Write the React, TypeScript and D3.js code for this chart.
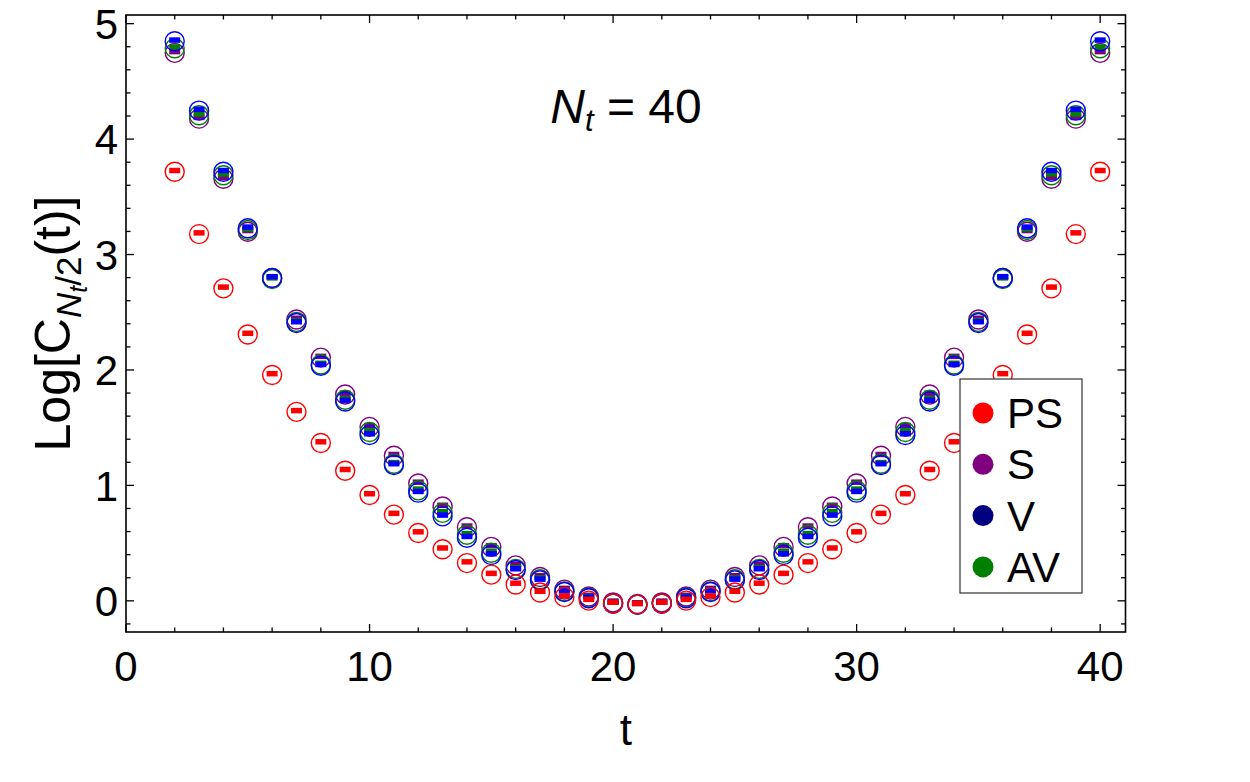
import React from "react";
import * as d3 from "d3";

// time slices
const tValues = [
  2, 3, 4, 5, 6, 7, 8, 9, 10, 11, 12, 13, 14, 15, 16, 17, 18, 19, 20, 21,
  22, 23, 24, 25, 26, 27, 28, 29, 30, 31, 32, 33, 34, 35, 36, 37, 38, 39, 40,
];

// log of the correlator for each channel
const psValues = [
  3.73, 3.19, 2.72, 2.32, 1.97, 1.65, 1.38, 1.14, 0.93, 0.76, 0.6, 0.46, 0.34, 0.24, 0.155, 0.085, 0.045, 0.015, -0.01, -0.02,
  -0.01, 0.015, 0.045, 0.085, 0.155, 0.24, 0.34, 0.46, 0.6, 0.76, 0.93, 1.14, 1.38, 1.65, 1.97, 2.32, 2.72, 3.19, 3.73,
];
const sValues = [
  4.76, 4.19, 3.67, 3.21, 2.81, 2.45, 2.12, 1.8, 1.52, 1.27, 1.03, 0.83, 0.65, 0.48, 0.32, 0.22, 0.11, 0.05, 0.0, -0.015,
  0.0, 0.05, 0.11, 0.22, 0.32, 0.48, 0.65, 0.83, 1.03, 1.27, 1.52, 1.8, 2.12, 2.45, 2.81, 3.21, 3.67, 4.19, 4.76,
];
const vValues = [
  4.86, 4.26, 3.73, 3.24, 2.81, 2.42, 2.05, 1.74, 1.45, 1.19, 0.95, 0.745, 0.56, 0.41, 0.28, 0.19, 0.09, 0.035, -0.01, -0.02,
  -0.01, 0.035, 0.09, 0.19, 0.28, 0.41, 0.56, 0.745, 0.95, 1.19, 1.45, 1.74, 2.05, 2.42, 2.81, 3.24, 3.73, 4.26, 4.86,
];
const avValues = [
  4.8, 4.22, 3.7, 3.225, 2.8, 2.43, 2.06, 1.755, 1.475, 1.2, 0.97, 0.775, 0.585, 0.43, 0.29, 0.2, 0.095, 0.04, -0.01, -0.02,
  -0.01, 0.04, 0.095, 0.2, 0.29, 0.43, 0.585, 0.775, 0.97, 1.2, 1.475, 1.755, 2.06, 2.43, 2.8, 3.225, 3.7, 4.22, 4.8,
];

const legendNames = ["PS", "S", "V", "AV"];
const legendColors = ["#ff0000", "#800080", "#000080", "#008000"];

const xMajor = [0, 10, 20, 30, 40];
const yMajor = [0, 1, 2, 3, 4, 5];

const W = 1250;
const H = 782;
const FONT = "'Liberation Sans', Arial, sans-serif";

// drawing order: purple, green, blue, red on top
const series = [
  { name: "S", values: sValues, color: "#800080" },
  { name: "AV", values: avValues, color: "#008000" },
  { name: "V", values: vValues, color: "#0000ff" },
  { name: "PS", values: psValues, color: "#ff0000" },
];

export default function App() {
  const left = 126, right = 1125.5, top = 15, bottom = 632;
  const x = d3.scaleLinear().domain([0, 41.04]).range([left, right]);
  const y = d3.scaleLinear().domain([-0.27, 5.075]).range([bottom, top]);

  const xMinor = d3.range(0, 41.5, 2).filter((v) => v % 10 !== 0);
  const yMinor = d3.range(-0.2, 5.05, 0.2)
    .map((v) => Math.round(v * 10) / 10)
    .filter((v) => !Number.isInteger(v));

  const major = 8, minor = 4.5;

  return (
    <svg width={W} height={H} style={{ position: "absolute", left: 0, top: 0, background: "#fff" }} fontFamily={FONT}>
      <rect x={0} y={0} width={W} height={H} fill="#fff" />

      {/* ticks on all four sides, pointing in */}
      <g stroke="#000" strokeWidth={1.3}>
        {xMajor.map((v) => (
          <g key={"xM" + v}>
            <line x1={x(v)} x2={x(v)} y1={bottom} y2={bottom - major} />
            <line x1={x(v)} x2={x(v)} y1={top} y2={top + major} />
          </g>
        ))}
        {xMinor.map((v) => (
          <g key={"xm" + v}>
            <line x1={x(v)} x2={x(v)} y1={bottom} y2={bottom - minor} />
            <line x1={x(v)} x2={x(v)} y1={top} y2={top + minor} />
          </g>
        ))}
        {yMajor.map((v) => (
          <g key={"yM" + v}>
            <line x1={left} x2={left + major} y1={y(v)} y2={y(v)} />
            <line x1={right} x2={right - major} y1={y(v)} y2={y(v)} />
          </g>
        ))}
        {yMinor.map((v) => (
          <g key={"ym" + v}>
            <line x1={left} x2={left + minor} y1={y(v)} y2={y(v)} />
            <line x1={right} x2={right - minor} y1={y(v)} y2={y(v)} />
          </g>
        ))}
      </g>
      <rect x={left} y={top} width={right - left} height={bottom - top} fill="none" stroke="#000" strokeWidth={1.6} />

      {/* tick labels */}
      {xMajor.map((v) => (
        <text key={"xl" + v} x={x(v)} y={681} textAnchor="middle" fontSize={42} fill="#000">
          {v}
        </text>
      ))}
      {yMajor.map((v) => (
        <text key={"yl" + v} x={118} y={y(v)} dy="0.36em" textAnchor="end" fontSize={42} fill="#000">
          {v}
        </text>
      ))}

      {/* axis titles */}
      <text x={(left + right) / 2} y={745} textAnchor="middle" fontSize={44} fill="#000">t</text>
      <text transform={`translate(70,${(top + bottom) / 2}) rotate(-90)`} textAnchor="middle" fontSize={50} fill="#000">
        Log[C
        <tspan fontStyle="italic" fontSize={35} dy={11}>N</tspan>
        <tspan fontStyle="italic" fontSize={25} dy={6}>t</tspan>
        <tspan fontSize={35} dy={-6}>/2</tspan>
        <tspan dy={-11}>(t)]</tspan>
      </text>

      {/* markers */}
      {series.map((s) => (
        <g key={s.name}>
          {s.values.map((v, i) => (
            <g key={i}>
              <circle cx={x(tValues[i])} cy={y(v) + 1.5} r={9.5} fill="none" stroke={s.color} strokeWidth={1.4} />
              <rect x={x(tValues[i]) - 5.5} y={y(v) - 2.5} width={11} height={5.5} fill={s.color} />
            </g>
          ))}
        </g>
      ))}

      {/* title */}
      <text x={626} y={123} textAnchor="middle" fontSize={48} fill="#000">
        <tspan fontStyle="italic">N</tspan>
        <tspan fontStyle="italic" fontSize={31} dy={8}>t</tspan>
        <tspan dy={-8}> = 40</tspan>
      </text>

      {/* legend */}
      <rect x={960} y={379} width={122} height={214} fill="#fff" stroke="#333" strokeWidth={1.2} />
      {legendNames.map((n, i) => (
        <g key={n}>
          <circle cx={983} cy={413 + i * 51.3} r={10.5} fill={legendColors[i]} />
          <text x={1007} y={413 + i * 51.3} dy="0.36em" fontSize={42} fill="#000">{n}</text>
        </g>
      ))}
    </svg>
  );
}
